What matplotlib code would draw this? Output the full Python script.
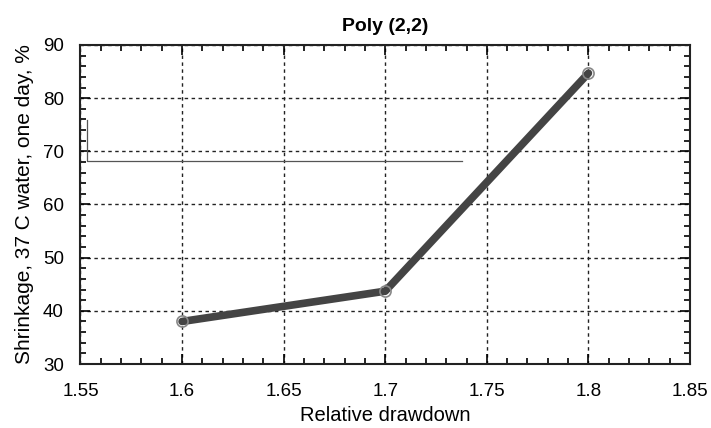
import numpy as np
import matplotlib.pyplot as plt
from matplotlib.ticker import MultipleLocator

plt.rcParams['font.family'] = ['Liberation Sans', 'DejaVu Sans']

drawdown = [1.6, 1.7, 1.8]
shrinkage = [38.0, 43.7, 84.7]

# leftover legend frame in the original (no text)
box_x = [1.553, 1.553, 1.738]
box_y = [75.9, 68.2, 68.2]

fig = plt.figure(figsize=(7.11, 4.28), dpi=100)
ax = fig.add_axes([0.1132, 0.1495, 0.8573, 0.7454])

ax.plot(box_x, box_y, color='#555555', lw=0.9)
ax.plot(drawdown, shrinkage, color='#444444', lw=5.5, solid_capstyle='round',
        marker='o', ms=8, mfc='none', mec='#888888', mew=1.2, zorder=3)

ax.set_xlim(1.55, 1.85)
ax.set_ylim(30, 90)
ax.xaxis.set_major_locator(MultipleLocator(0.05))
ax.xaxis.set_minor_locator(MultipleLocator(0.01))
ax.yaxis.set_major_locator(MultipleLocator(10))
ax.yaxis.set_minor_locator(MultipleLocator(2))
ax.set_xticks([1.55, 1.6, 1.65, 1.7, 1.75, 1.8, 1.85])
ax.set_xticklabels(['1.55', '1.6', '1.65', '1.7', '1.75', '1.8', '1.85'])

ax.tick_params(which='both', direction='in', top=True, right=True, width=1.2, labelsize=13.5)
ax.tick_params(which='major', length=7)
ax.tick_params(axis='x', which='major', pad=14)
ax.tick_params(axis='y', which='major', pad=12)
ax.tick_params(which='minor', length=4)
ax.grid(True, which='major', color='#222222', ls=(0, (2.5, 2.5)), lw=1)
for s in ax.spines.values():
    s.set_linewidth(1.5)
    s.set_color('#222222')

ax.set_xlabel('Relative drawdown', fontsize=14.5, labelpad=4)
ax.set_ylabel('Shrinkage, 37 C water, one day, %', fontsize=15, labelpad=6)
ax.set_title('Poly (2,2)', fontsize=14, fontweight='bold', pad=10)

fig.savefig('out.png', dpi=100)
